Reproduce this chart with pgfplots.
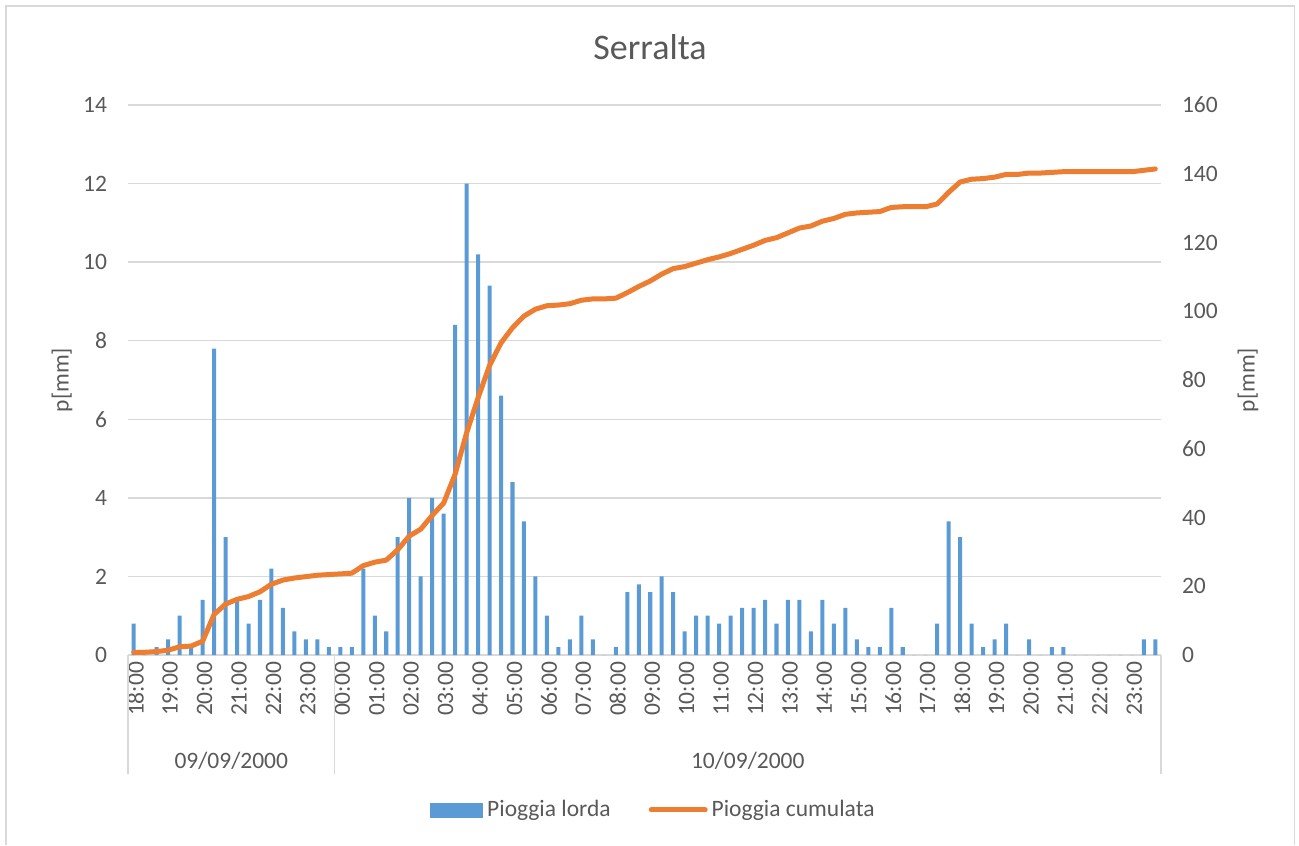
\documentclass[border=0pt]{standalone}
\usepackage{pgfplots}
\pgfplotsset{compat=1.18}
\usepackage{pgfplotstable}
\usepackage{fontspec}
\setmainfont{Carlito}
\definecolor{barblue}{HTML}{5B9BD5}
\definecolor{lineorange}{HTML}{ED7D31}
\definecolor{txtgrey}{HTML}{595959}
\definecolor{gridgrey}{HTML}{D9D9D9}

\pgfplotstableread{
x rain cum
0  0.8  0.8
1  0.0  0.8
2  0.2  1.0
3  0.4  1.4
4  1.0  2.4
5  0.2  2.6
6  1.4  4.0
7  7.8  11.8
8  3.0  14.8
9  1.4  16.2
10 0.8  17.0
11 1.4  18.4
12 2.2  20.6
13 1.2  21.8
14 0.6  22.4
15 0.4  22.8
16 0.4  23.2
17 0.2  23.4
18 0.2  23.6
19 0.2  23.8
20 2.2  26.0
21 1.0  27.0
22 0.6  27.6
23 3.0  30.6
24 4.0  34.6
25 2.0  36.6
26 4.0  40.6
27 3.6  44.2
28 8.4  52.6
29 12.0 64.6
30 10.2 74.8
31 9.4  84.2
32 6.6  90.8
33 4.4  95.2
34 3.4  98.6
35 2.0  100.6
36 1.0  101.6
37 0.2  101.8
38 0.4  102.2
39 1.0  103.2
40 0.4  103.6
41 0.0  103.6
42 0.2  103.8
43 1.6  105.4
44 1.8  107.2
45 1.6  108.8
46 2.0  110.8
47 1.6  112.4
48 0.6  113.0
49 1.0  114.0
50 1.0  115.0
51 0.8  115.8
52 1.0  116.8
53 1.2  118.0
54 1.2  119.2
55 1.4  120.6
56 0.8  121.4
57 1.4  122.8
58 1.4  124.2
59 0.6  124.8
60 1.4  126.2
61 0.8  127.0
62 1.2  128.2
63 0.4  128.6
64 0.2  128.8
65 0.2  129.0
66 1.2  130.2
67 0.2  130.4
68 0.0  130.4
69 0.0  130.4
70 0.8  131.2
71 3.4  134.6
72 3.0  137.6
73 0.8  138.4
74 0.2  138.6
75 0.4  139.0
76 0.8  139.8
77 0.0  139.8
78 0.4  140.2
79 0.0  140.2
80 0.2  140.4
81 0.2  140.6
82 0.0  140.6
83 0.0  140.6
84 0.0  140.6
85 0.0  140.6
86 0.0  140.6
87 0.0  140.6
88 0.4  141.0
89 0.4  141.4
}\datatable

\begin{document}
\begin{tikzpicture}[font=\fontsize{11.75}{14}\selectfont]
\path[use as bounding box] (-64pt,-95pt) rectangle (585.5pt,327.5pt);
\draw[gridgrey, line width=0.75pt] (-61pt,-95pt) -- (-61pt,324.5pt) -- (583.25pt,324.5pt) -- (583.25pt,-95pt);

\begin{axis}[
  scale only axis, width=516.5pt, height=275pt,
  xmin=-0.5, xmax=89.5, ymin=0, ymax=14,
  ytick={0,2,...,14},
  xtick={0,3,...,87},
  xticklabels={18:00,19:00,20:00,21:00,22:00,23:00,00:00,01:00,02:00,03:00,04:00,05:00,06:00,07:00,08:00,09:00,10:00,11:00,12:00,13:00,14:00,15:00,16:00,17:00,18:00,19:00,20:00,21:00,22:00,23:00},
  xticklabel style={rotate=90, anchor=east, text=txtgrey, yshift=-1pt},
  yticklabel style={text=txtgrey, xshift=-7pt},
  ymajorgrids, grid style={gridgrey, line width=0.75pt},
  axis line style={draw=none},
  major tick length=0pt,
  /pgf/number format/assume math mode=true,
  ylabel={p[mm]},
  ylabel style={at={(axis description cs:-0.0639,0.5)}, anchor=center, text=txtgrey},
  clip=false,
  ybar, bar width=0.35, bar shift=0pt,
]
\addplot[draw=none, fill=barblue] table[x=x,y=rain]{\datatable};
\draw[gridgrey, line width=0.75pt] (axis cs:-0.5,0) -- ([yshift=-59.5pt]axis cs:-0.5,0);
\draw[gridgrey, line width=0.75pt] (axis cs:17.5,0) -- ([yshift=-59.5pt]axis cs:17.5,0);
\draw[gridgrey, line width=0.75pt] (axis cs:89.5,0) -- ([yshift=-59.5pt]axis cs:89.5,0);
\node[text=txtgrey, anchor=base] at ([yshift=-56.5pt]axis cs:8.5,0) {09/09/2000};
\node[text=txtgrey, anchor=base] at ([yshift=-56.5pt]axis cs:53.5,0) {10/09/2000};
\end{axis}

\begin{axis}[
  scale only axis, width=516.5pt, height=275pt,
  xmin=-0.5, xmax=89.5, ymin=0, ymax=160,
  axis x line=none,
  axis y line*=right,
  axis line style={draw=none},
  ytick={0,20,...,160},
  major tick length=0pt,
  /pgf/number format/assume math mode=true,
  yticklabel style={text=txtgrey, xshift=7pt},
  ylabel={p[mm]},
  ylabel style={at={(axis description cs:1.0842,0.5)}, anchor=center, text=txtgrey},
  clip=false,
  legend style={at={(0.5097,-0.2818)}, anchor=center, draw=none, fill=none,
    legend columns=2, text=txtgrey,
    /tikz/every even column/.append style={column sep=17pt}},
]
\addlegendimage{legend image code/.code={\fill[barblue] (0pt,-3.5pt) rectangle (26pt,3.5pt);}}
\addlegendentry{Pioggia lorda}
\addplot[lineorange, line width=2.5pt, line join=round, line cap=round,
  legend image code/.code={\draw[lineorange, line width=2.5pt, line cap=round] (0pt,0pt) -- (27pt,0pt);}]
  table[x=x,y=cum]{\datatable};
\addlegendentry{Pioggia cumulata}
\end{axis}

\node[text=txtgrey, anchor=base, font=\fontsize{18}{21}\selectfont] at (261pt,297.9pt) {Serralta};
\end{tikzpicture}
\end{document}
